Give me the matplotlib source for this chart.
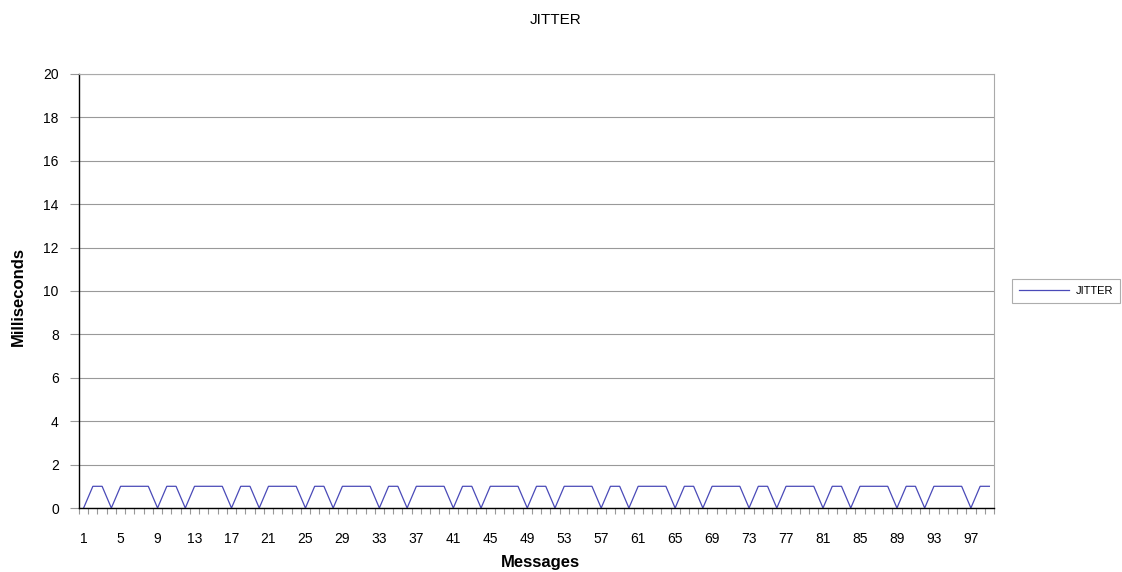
import matplotlib
matplotlib.use("Agg")
import matplotlib.pyplot as plt
import numpy as np

plt.rcParams['font.family'] = ['Liberation Sans', 'DejaVu Sans']

# data: jitter per message (ms)
messages = list(range(1, 100))
jitter = [0, 1, 1, 0, 1, 1, 1, 1,
          0, 1, 1, 0, 1, 1, 1, 1,
          0, 1, 1, 0, 1, 1, 1, 1,
          0, 1, 1, 0, 1, 1, 1, 1,
          0, 1, 1, 0, 1, 1, 1, 1,
          0, 1, 1, 0, 1, 1, 1, 1,
          0, 1, 1, 0, 1, 1, 1, 1,
          0, 1, 1, 0, 1, 1, 1, 1,
          0, 1, 1, 0, 1, 1, 1, 1,
          0, 1, 1, 0, 1, 1, 1, 1,
          0, 1, 1, 0, 1, 1, 1, 1,
          0, 1, 1, 0, 1, 1, 1, 1,
          0, 1, 1]
xtick_labels = [str(m) for m in range(1, 100, 4)]
yticks = list(range(0, 21, 2))

W, H = 1122, 572
fig = plt.figure(figsize=(W / 100, H / 100), dpi=100)
ax = fig.add_axes([79 / W, 1 - 508 / H, (994 - 79) / W, (508 - 74) / H])

ax.plot(messages, jitter, color='#4a4ab8', lw=0.9, label='JITTER')

ax.set_xlim(0.5, 99.5)
ax.set_ylim(0, 20)
ax.set_yticks(yticks)
ax.set_xticks(range(1, 100, 4))
ax.set_xticklabels(xtick_labels)
ax.set_xticks(np.arange(0.5, 100, 1), minor=True)
ax.tick_params(axis='x', which='major', length=0, pad=17, labelsize=10)
ax.tick_params(axis='x', which='minor', length=4, color='#999999', width=0.8)
ax.tick_params(axis='y', length=6.5, color='#999999', width=0.8, pad=8, labelsize=10)

ax.grid(axis='y', color='#999999', lw=0.8)
ax.set_axisbelow(True)
for s in ['top', 'right']:
    ax.spines[s].set_color('#aaaaaa')
    ax.spines[s].set_linewidth(0.8)
ax.spines['left'].set_color('black')
ax.spines['bottom'].set_color('black')
ax.spines['left'].set_linewidth(1.0)
ax.spines['bottom'].set_linewidth(1.0)

fig.text(556 / W, 1 - 19.5 / H, 'JITTER', ha='center', va='center', fontsize=11)
fig.text(18.5 / W, 1 - 297 / H, 'Milliseconds', ha='center', va='center',
         rotation=90, fontsize=12, fontweight='bold')
fig.text(540 / W, 1 - 563 / H, 'Messages', ha='center', va='center',
         fontsize=12, fontweight='bold')

leg = fig.legend(loc='center', bbox_to_anchor=(1066 / W, 1 - 291 / H),
                 fontsize=8, frameon=True, fancybox=False, edgecolor='#999999',
                 handlelength=4.5, borderpad=0.6, handletextpad=0.6)
leg.get_frame().set_linewidth(0.8)

fig.savefig('out.png', dpi=100)
